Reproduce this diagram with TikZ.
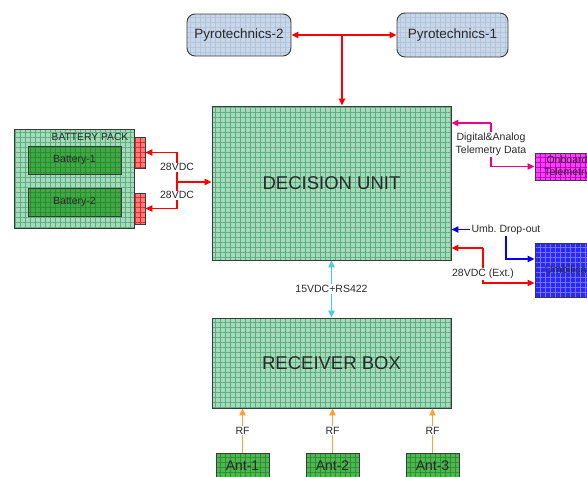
\documentclass[tikz,border=0pt]{standalone}
\usepackage{fontspec}
\setmainfont{Liberation Sans}
\usetikzlibrary{arrows.meta,patterns.meta}

\definecolor{dugreen}{HTML}{A6DABA}
\definecolor{dugrid}{HTML}{5AAE80}
\definecolor{batgreen}{HTML}{3FAA45}
\definecolor{batgrid}{HTML}{2C8A32}
\definecolor{pyfill}{HTML}{C9D7EA}
\definecolor{pygrid}{HTML}{B3C3DA}
\definecolor{confill}{HTML}{FF7A7A}
\definecolor{congrid}{HTML}{E02828}
\definecolor{magfill}{HTML}{FF40FF}
\definecolor{maggrid}{HTML}{C000C0}
\definecolor{blufill}{HTML}{2828FF}
\definecolor{blugrid}{HTML}{7474FF}
\definecolor{antfill}{HTML}{4DB84F}
\definecolor{antgrid}{HTML}{2F8F33}
\definecolor{edgegray}{HTML}{3A3A3A}
\definecolor{txtgray}{HTML}{2A2A2A}
\definecolor{cyanline}{HTML}{45D0D6}
\definecolor{orangeline}{HTML}{FFA030}

\tikzset{
  gridbox/.style 2 args={rectangle, inner sep=0pt, align=center, text=txtgray,
    draw=edgegray, line width=0.9pt,
    preaction={fill=#1},
    preaction={pattern={Hatch[distance=5pt,line width=0.55pt]}, pattern color=#2}},
  lbl/.style={fill=white, inner sep=1pt, align=center, text=txtgray,
    font=\fontsize{10.5}{13}\selectfont},
  plain/.style={inner sep=1pt, align=center, text=txtgray,
    font=\fontsize{10.5}{13}\selectfont},
  tip/.style={-{Triangle[length=7pt,width=6.5pt]}},
  bothtips/.style={{Triangle[length=7pt,width=6.5pt]}-{Triangle[length=7pt,width=6.5pt]}},
  redc/.style={draw=red, line width=1.4pt},
  magc/.style={draw=magenta, line width=1.3pt},
  bluc/.style={draw=blue, line width=1.3pt},
  cyac/.style={draw=cyanline, line width=1.4pt},
  orac/.style={draw=orangeline, line width=1.4pt},
}

\begin{document}
\begin{tikzpicture}[x=1pt,y=-1pt]
\useasboundingbox (0,0) rectangle (587,477);
\clip (0,0) rectangle (587,477);

% pyrotechnics units
\node[gridbox={pyfill}{pygrid}, rounded corners=8pt, minimum width=104pt, minimum height=42pt,
      font=\fontsize{13.5}{16}\selectfont] (p2) at (239,35) {Pyrotechnics-2};
\node[gridbox={pyfill}{pygrid}, rounded corners=8pt, minimum width=111pt, minimum height=44pt,
      font=\fontsize{13.5}{16}\selectfont] (p1) at (452.5,35) {Pyrotechnics-1};

% main units
\node[gridbox={dugreen}{dugrid}, minimum width=239pt, minimum height=154pt,
      font=\fontsize{18.5}{22}\selectfont] (du) at (331.5,183) {DECISION UNIT};
\node[gridbox={dugreen}{dugrid}, minimum width=239pt, minimum height=90pt,
      font=\fontsize{18.5}{22}\selectfont] (rb) at (331.5,363) {RECEIVER BOX};

% battery pack
\node[gridbox={dugreen}{dugrid}, minimum width=120pt, minimum height=99pt] (bp) at (74,178.5) {};
\node[plain, font=\fontsize{10.3}{12}\selectfont] (bpl) at (90,137) {BATTERY PACK};
\node[gridbox={batgreen}{batgrid}, minimum width=93pt, minimum height=28pt,
      font=\fontsize{10.5}{12}\selectfont] (b1) at (74.5,160) {Battery-1};
\node[gridbox={batgreen}{batgrid}, minimum width=93pt, minimum height=28pt,
      font=\fontsize{10.5}{12}\selectfont] (b2) at (74.5,202) {Battery-2};
\node[gridbox={confill}{congrid}, minimum width=11pt, minimum height=31pt] (c1) at (139.5,152.5) {};
\node[gridbox={confill}{congrid}, minimum width=11pt, minimum height=31pt] (c2) at (139.5,208.5) {};

% external units on the right
\node[gridbox={magfill}{maggrid}, minimum width=64pt, minimum height=27pt,
      font=\fontsize{10.5}{12}\selectfont] (onb) at (567,166.5) {Onboard\\Telemetry};
\node[gridbox={blufill}{blugrid}, minimum width=64pt, minimum height=54pt,
      font=\fontsize{11}{13}\selectfont] (umb) at (567,270) {Umbilical};

% antennas
\node[gridbox={antfill}{antgrid}, minimum width=53pt, minimum height=25pt,
      font=\fontsize{14}{16}\selectfont] (a1) at (242.5,465.5) {Ant-1};
\node[gridbox={antfill}{antgrid}, minimum width=53pt, minimum height=25pt,
      font=\fontsize{14}{16}\selectfont] (a2) at (332.5,465.5) {Ant-2};
\node[gridbox={antfill}{antgrid}, minimum width=53pt, minimum height=25pt,
      font=\fontsize{14}{16}\selectfont] (a3) at (432.5,465.5) {Ant-3};

% pyrotechnics bus
\coordinate (jn) at (342,35);
\draw[redc, bothtips] (p2) -- (p1);
\draw[redc, tip] (jn) -- (jn |- du.north);

% battery feeds
\coordinate (bj) at (177,182);
\draw[redc, tip] (bj) -- (bj -| du.west);
\draw[redc, tip] (bj) |- node[lbl, pos=0.25] {28VDC} (c1);
\draw[redc, tip] (bj) |- node[lbl, pos=0.25] {28VDC} (c2);

% telemetry
\coordinate (mj) at (491,123);
\draw[magc, tip] (mj) -- (mj -| du.east);
\draw[magc, tip] (mj) |- node[lbl, pos=0.25] {Digital\&Analog\\Telemetry Data} (onb);

% umbilical drop-out
\node[plain] (udo) at (506,229.5) {Umb.\ Drop-out};
\draw[bluc, tip] (udo) -- (udo -| du.east);
\draw[bluc, tip] (udo.south) |- ([yshift=11pt]umb.west);

% external power
\coordinate (ej) at (483,248);
\draw[redc, tip] (ej) -- (ej -| du.east);
\draw[redc, tip] (ej) |- node[lbl, pos=0.37] {28VDC (Ext.)} ([yshift=-13pt]umb.west);

% receiver link
\draw[cyac, bothtips] (du) -- node[lbl] {15VDC+RS422} (rb);

% RF inputs
\draw[orac, tip] (a1) -- node[lbl] {RF} (a1 |- rb.south);
\draw[orac, tip] (a2) -- node[lbl] {RF} (a2 |- rb.south);
\draw[orac, tip] (a3) -- node[lbl] {RF} (a3 |- rb.south);
\end{tikzpicture}
\end{document}
